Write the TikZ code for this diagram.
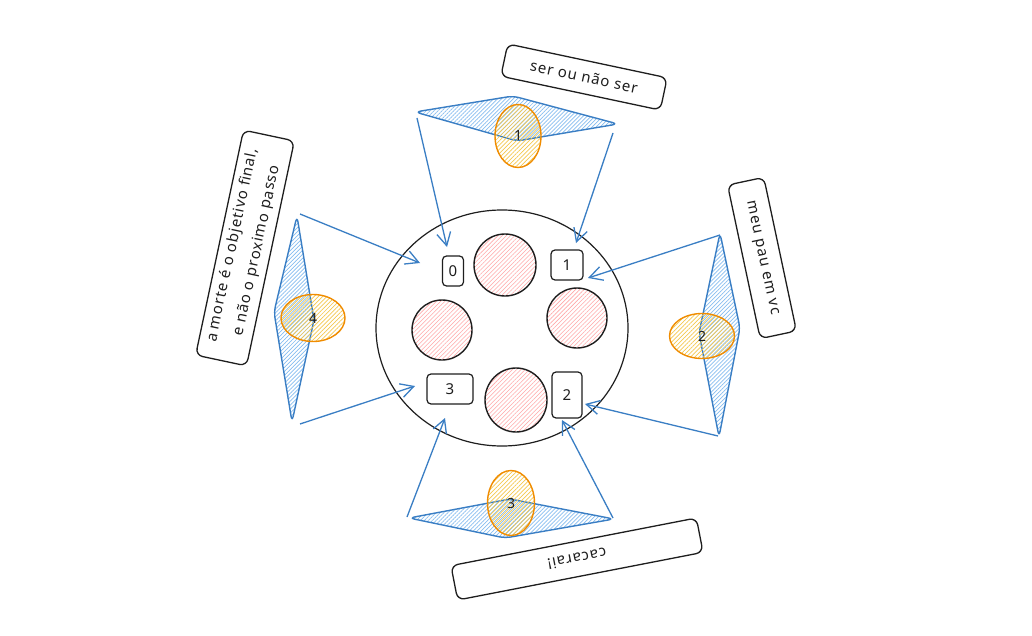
\documentclass[tikz,border=0pt]{standalone}
\usepackage{fontspec}
\setmainfont{Noto Sans}[LetterSpace=6]
\usetikzlibrary{patterns.meta,arrows.meta,shapes.geometric}
\definecolor{bstroke}{HTML}{3A7EC4}
\definecolor{bhach}{HTML}{86BDF0}
\definecolor{ostroke}{HTML}{F08C00}
\definecolor{ohach}{HTML}{F5C84E}
\definecolor{rhach}{HTML}{FFA8A8}
\definecolor{ink}{HTML}{1E1E1E}
\tikzset{
 diamondshape/.style={draw=bstroke, line width=1.4pt, rounded corners=6pt,
   pattern={Lines[angle=45,distance=2.8pt,line width=0.7pt]}, pattern color=bhach},
 oval/.style={ellipse, draw=ostroke, line width=1.4pt, inner sep=0pt,
   pattern={Lines[angle=45,distance=3pt,line width=0.7pt]}, pattern color=ohach,
   font=\fontsize{14}{16}\selectfont, text=ink},
 seat/.style={circle, draw=ink, line width=1.4pt, inner sep=0pt,
   pattern={Lines[angle=45,distance=3pt,line width=0.6pt]}, pattern color=rhach},
 numbox/.style={draw=ink, line width=1.2pt, rounded corners=4pt, fill=white,
   font=\fontsize{15}{18}\selectfont, inner sep=0pt, text=ink},
 notebox/.style={draw=ink, line width=1.3pt, rounded corners=7pt, fill=white,
   font=\fontsize{15}{25}\selectfont, inner sep=0pt, align=center, text=ink},
 conn/.style={draw=bstroke, line width=1.3pt, -{Straight Barb[length=13pt,width=14pt]}},
}
\begin{document}
\begin{tikzpicture}[x=1pt,y=-1pt]
\useasboundingbox (0,0) rectangle (1032,636);
\fill[white] (0,0) rectangle (1032,636);

% table
\node[ellipse, draw=ink, line width=1.2pt, minimum width=252pt, minimum height=236pt] (table) at (502,328) {};

% seats
\node[seat, minimum size=62pt] (s1) at (505,265) {};
\node[seat, minimum size=60pt] (s2) at (442,330) {};
\node[seat, minimum size=60pt] (s3) at (577,318) {};
\node[seat, minimum width=62pt, minimum height=64pt, ellipse] (s4) at (516,400) {};

% numbered boxes
\node[numbox, minimum width=21pt, minimum height=30pt] (b0) at (453,271) {0};
\node[numbox, minimum width=32pt, minimum height=30pt] (b1) at (567,265) {1};
\node[numbox, minimum width=30pt, minimum height=46pt] (b2) at (567,395) {2};
\node[numbox, minimum width=46pt, minimum height=30pt] (b3) at (450,389) {3};

% top diamond
\coordinate (tl) at (415,112); \coordinate (tt) at (513,96);
\coordinate (tr) at (618,124); \coordinate (tb) at (517,141);
\draw[diamondshape] (tl) -- (tt) -- (tr) -- (tb) -- cycle;
\node[oval, minimum width=46pt, minimum height=63pt] (o1) at (518,136) {1};

% right diamond
\coordinate (rt) at (720,233); \coordinate (rr) at (740,328);
\coordinate (rb) at (719,437); \coordinate (rl) at (699,333);
\draw[diamondshape] (rt) -- (rr) -- (rb) -- (rl) -- cycle;
\node[oval, minimum width=65pt, minimum height=45pt] (o2) at (702,336) {2};

% bottom diamond
\coordinate (dl) at (409,518); \coordinate (dt) at (510,499);
\coordinate (dr) at (614,519); \coordinate (db) at (505,538);
\draw[diamondshape] (dl) -- (dt) -- (dr) -- (db) -- cycle;
\node[oval, minimum width=47pt, minimum height=65pt] (o3) at (511,503) {3};

% left diamond
\coordinate (lt) at (297,216); \coordinate (lr) at (314,320);
\coordinate (lb) at (292,422); \coordinate (ll) at (274,312);
\draw[diamondshape] (lt) -- (lr) -- (lb) -- (ll) -- cycle;
\node[oval, minimum width=64pt, minimum height=47pt] (o4) at (313,318) {4};

% connector ends
\coordinate (a1s) at (417,118); \coordinate (a1e) at (447,247);
\coordinate (a2s) at (613,133); \coordinate (a2e) at (576,243);
\coordinate (a3s) at (720,235); \coordinate (a3e) at (588,278);
\coordinate (a4s) at (718,436); \coordinate (a4e) at (585,404);
\coordinate (a5s) at (407,517); \coordinate (a5e) at (445,418);
\coordinate (a6s) at (613,518); \coordinate (a6e) at (562,420);
\coordinate (a7s) at (300,214); \coordinate (a7e) at (420,263);
\coordinate (a8s) at (300,424); \coordinate (a8e) at (415,386);
\foreach \i in {1,...,8} {\draw[conn] (a\i s) -- (a\i e);}

% notes
\node[notebox, rotate=-12, minimum width=163pt, minimum height=33pt] (n1) at (584,77) {ser ou não ser};
\node[notebox, rotate=-78, minimum width=157pt, minimum height=37pt] (n2) at (762,258) {meu pau em vc};
\node[notebox, rotate=191, minimum width=250pt, minimum height=35pt] (n3) at (577,559) {cacarai!};
\node[notebox, rotate=78, minimum width=230pt, minimum height=52pt] (n4) at (245,248) {a morte é o objetivo final,\\ e não o proximo passo};
\end{tikzpicture}
\end{document}
